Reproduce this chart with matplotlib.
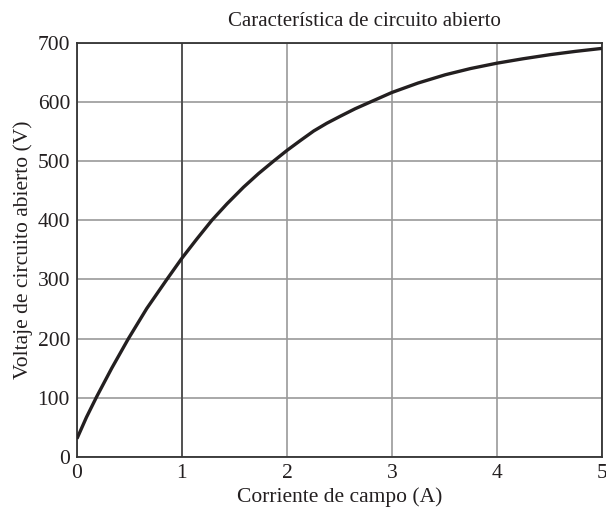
import matplotlib
matplotlib.use("Agg")
from matplotlib import pyplot as plt

corriente = [0.0, 0.09, 0.188, 0.331, 0.49, 0.665, 0.856, 1.0, 1.14, 1.285,
             1.43, 1.587, 1.73, 1.873, 2.0, 2.13, 2.256, 2.38, 2.51, 2.65,
             2.796, 3.0, 3.25, 3.51, 3.75, 4.0, 4.25, 4.51, 4.75, 5.0]
voltaje = [31, 67, 102, 150, 200, 251, 300, 336, 368, 400,
           428, 456, 479, 500, 518, 535, 551, 564, 576, 588.5,
           600, 616, 632, 646, 656.5, 665.5, 673, 680, 685.5, 690.5]

plt.rcParams['font.family'] = ['Liberation Serif', 'DejaVu Serif']

fig = plt.figure(figsize=(6.06, 5.07), dpi=100)
ax = fig.add_axes([0.127, 0.0986, 0.866, 0.817])

ax.plot(corriente, voltaje, color='#231f20', linewidth=2.4, zorder=3,
        solid_joinstyle='round', solid_capstyle='butt')

ax.set_xlim(0, 5)
ax.set_ylim(0, 700)
ax.set_xticks([0, 1, 2, 3, 4, 5])
ax.set_yticks(range(0, 701, 100))
ax.grid(True, color='#9a9a9a', linewidth=1.2)
# the x=1 line is drawn darker in the original
ax.axvline(1, color='#444444', linewidth=1.2, zorder=2)
ax.tick_params(length=0, labelsize=15.5, pad=5, colors='#231f20')
for s in ax.spines.values():
    s.set_color('#333333')
    s.set_linewidth(1.3)

ax.set_xlabel('Corriente de campo (A)', fontsize=15.5, color='#231f20', labelpad=3)
ax.set_ylabel('Voltaje de circuito abierto (V)', fontsize=15.5, color='#231f20', labelpad=3)
fig.text(0.602, 0.958, 'Característica de circuito abierto', ha='center', va='center',
         fontsize=15, color='#231f20')

fig.savefig('out.png', dpi=100)
